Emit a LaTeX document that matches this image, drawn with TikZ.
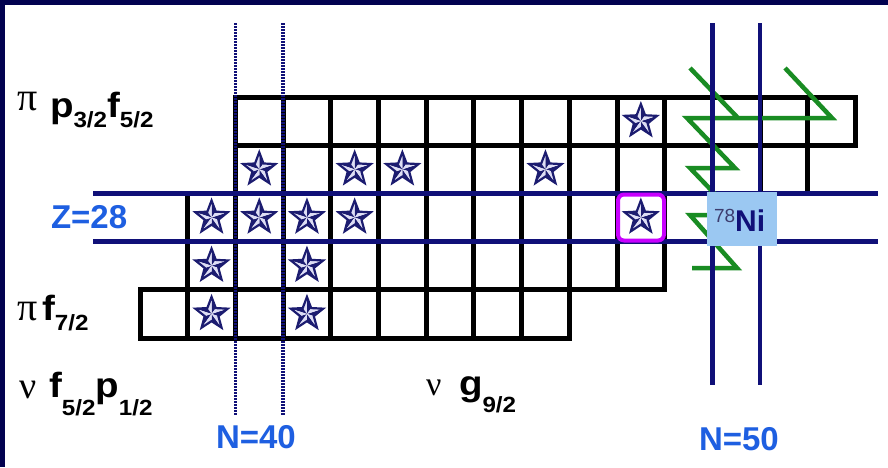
\documentclass[tikz,border=0pt]{standalone}
\usepackage{fontspec}
\setmainfont{Liberation Sans}
\newfontfamily\grk{Liberation Serif}
\newfontfamily\lblfont{Liberation Sans}[FakeStretch=1.1]
\definecolor{framenavy}{RGB}{2,2,80}
\definecolor{linenavy}{RGB}{16,16,120}
\definecolor{starnavy}{RGB}{28,28,112}
\definecolor{starlight}{RGB}{222,222,245}
\definecolor{labelblue}{RGB}{30,95,225}
\definecolor{nifill}{RGB}{155,200,242}
\definecolor{nigray}{RGB}{60,60,110}
\definecolor{magentabox}{RGB}{200,0,255}
\definecolor{zgreen}{RGB}{25,140,35}
\tikzset{
  gridline/.style={draw=black,line width=5pt},
  navyline/.style={draw=linenavy,line width=4.5pt},
  dotline/.style={draw=linenavy,line width=3.5pt,dash pattern=on 2pt off 1pt},
  greenz/.style={draw=zgreen,line width=4.5pt,line join=miter},
  lbl/.style={anchor=base west,inner sep=0pt,outer sep=0pt},
  big/.style={font=\lblfont\fontsize{35}{38}\selectfont\bfseries},
  blue/.style={font=\fontsize{33}{36}\selectfont\bfseries,text=labelblue},
  nstar/.pic={
    \foreach \k in {0,...,4}{
      \pgfmathsetmacro\a{-90+72*\k}
      \fill[starnavy] (0,0) -- (\a:17) -- ({\a+36}:7.2) -- cycle;
      \fill[starlight] (0,0) -- (\a:17) -- ({\a-36}:7.2) -- cycle;
    }
    \draw[starnavy,line width=2.2pt,line join=miter]
      (-90:17) -- (-54:7.2) -- (-18:17) -- (18:7.2) -- (54:17) -- (90:7.2)
      -- (126:17) -- (162:7.2) -- (198:17) -- (234:7.2) -- cycle;
  }
}
\newcommand{\subtxt}[2]{\raisebox{-#1pt}{\lblfont\fontsize{22}{24}\selectfont\bfseries #2}}
\begin{document}
\begin{tikzpicture}[x=1pt,y=-1pt]
\useasboundingbox (0,0) rectangle (888,467);
\fill[framenavy] (0,0) rectangle (888,467);
\fill[white] (5,5) rectangle (888,467);
% grid of cells
\foreach \r/\a/\b in {0/2/14,1/2/13,2/1/10,3/1/10,4/0/8}{
  \foreach \c in {\a,...,\b}{
    \draw[gridline] ({140+\c*47.7},{97+\r*48.2}) rectangle ++(47.7,48.2);
  }
}
% stars
\foreach \r/\c in {0/10,1/2,1/4,1/5,1/8,2/1,2/2,2/3,2/4,2/10,3/1,3/3,4/1,4/3}{
  \pic at ({140+(\c+0.5)*47.7},{97+(\r+0.5)*48.2}) {nstar};
}
% Z=28 lines
\coordinate (z1a) at (93,193.4);  \coordinate (z1b) at (878,193.4);
\coordinate (z2a) at (93,241.6);  \coordinate (z2b) at (878,241.6);
\draw[navyline] (z1a) -- (z1b);
\draw[navyline] (z2a) -- (z2b);
% N=40 dotted lines
\coordinate (n40a) at (235.4,23); \coordinate (n40b) at (235.4,415);
\coordinate (n40c) at (283.1,23); \coordinate (n40d) at (283.1,415);
\draw[dotline] (n40a) -- (n40b);
\draw[dotline] (n40c) -- (n40d);
% green zigzag
\draw[greenz] (690,68) -- (738,118);
\draw[greenz] (785,68) -- (832,118) -- (687,118) -- (735,168) -- (690,168)
  -- (735,215) -- (690,215) -- (737,268) -- (692,268);
% N=50 lines
\coordinate (n50a) at (712.4,23); \coordinate (n50b) at (712.4,385);
\coordinate (n50c) at (760.1,23); \coordinate (n50d) at (760.1,385);
\draw[navyline] (n50a) -- (n50b);
\draw[navyline] (n50c) -- (n50d);
% selected cell
\node[draw=magentabox,line width=4pt,rounded corners=6pt,minimum width=46pt,
  minimum height=46pt,inner sep=0pt] (sel) at (641,217.5) {};
% 78Ni box
\node[fill=nifill,minimum width=70pt,minimum height=54pt,inner sep=0pt] (nibox) at (742,219) {};
\node[lbl] (nilabel) at (714,231)
  {\raisebox{9pt}{\fontsize{19}{19}\selectfont\color{nigray}78}\fontsize{30}{30}\selectfont\bfseries\color{linenavy}Ni};
% labels
\node[lbl,font=\fontsize{40}{40}\selectfont\grk] (piA) at (17,110) {π};
\node[lbl,big] (lA) at (50,117) {p\subtxt{10}{3/2}f\subtxt{10}{5/2}};
\node[lbl,blue] (z28) at (51,228) {Z=28};
\node[lbl,font=\fontsize{40}{40}\selectfont\grk] (piB) at (17,320) {π};
\node[lbl,big] (lB) at (42,320) {f\subtxt{10}{7/2}};
\node[lbl,font=\fontsize{38}{38}\selectfont\grk] (nuA) at (19,398) {ν};
\node[lbl,big] (lC) at (49,397) {f\subtxt{18}{5/2}p\subtxt{18}{1/2}};
\node[lbl,font=\fontsize{34}{34}\selectfont\grk] (nuB) at (426,395) {ν};
\node[lbl,big] (lD) at (459,395) {g\subtxt{17}{9/2}};
\node[lbl,blue] (n40) at (216,448) {N=40};
\node[lbl,blue] (n50) at (699,450) {N=50};
\end{tikzpicture}
\end{document}
